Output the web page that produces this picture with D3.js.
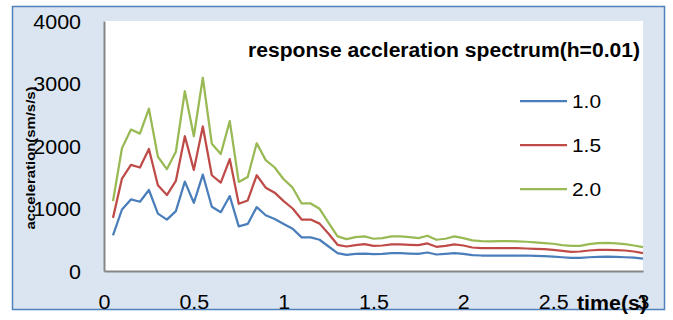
<!DOCTYPE html>
<html><head><meta charset="utf-8">
<script src="https://cdn.jsdelivr.net/npm/d3@7"></script>
<style>body{margin:0;background:#fff}svg{display:block}</style>
</head><body>
<svg id="c" width="673" height="320"></svg>
<script>
const times = d3.range(1, 61).map(i => +(i * 0.05).toFixed(2));
const s10 = [570,984,1145,1108,1296,919,823,957,1430,1091,1543,1027,941,1199,715,753,1022,892,833,753,677,538,538,500,392,285,258,274,279,269,274,285,285,279,274,296,264,274,285,274,253,248,248,248,248,248,248,242,237,231,220,210,210,220,226,231,226,220,215,199];
const s15 = [850,1479,1699,1656,1952,1371,1215,1441,2156,1618,2312,1532,1414,1790,1075,1129,1532,1333,1253,1118,1000,823,823,758,597,419,392,414,430,403,408,425,425,419,414,441,387,403,425,408,376,366,366,366,366,366,360,355,349,339,323,307,312,328,339,339,333,328,312,285];
const s20 = [1118,1963,2263,2198,2597,1828,1629,1908,2876,2156,3092,2037,1871,2398,1425,1505,2043,1774,1656,1468,1333,1081,1081,995,769,553,511,543,553,516,527,553,553,543,527,564,500,516,553,527,489,478,473,478,478,473,468,457,446,436,414,403,403,430,446,451,441,430,408,381];
const seriesNames = ["1.0","1.5","2.0"];
const seriesColors = ["#4a7ebb","#be4b48","#98b954"];
const xTicks = [0,0.5,1,1.5,2,2.5,3];
const yTicks = [0,1000,2000,3000,4000];
const title = "response accleration spectrum(h=0.01)";

const svg = d3.select("#c");
const SX = 1.1;
const font = "'Liberation Sans', Arial, sans-serif";
svg.append("rect").attr("x",12.5).attr("y",6.5).attr("width",652).attr("height",303)
  .attr("fill","#dbe5f1").attr("stroke","#4f81bd").attr("stroke-width",1.5);

const L=104,R=643,T=21,B=271;
svg.append("rect").attr("x",L).attr("y",T).attr("width",R-L).attr("height",B-T).attr("fill","#fff");
const x = d3.scaleLinear().domain([0,3]).range([L,R]);
const y = d3.scaleLinear().domain([0,4000]).range([B,T]);

const xa = svg.append("g").attr("transform",`translate(0,${B})`)
  .call(d3.axisBottom(x).tickValues(xTicks).tickSize(0).tickPadding(0).tickFormat(d3.format("")));
xa.select(".domain").attr("stroke","#868686").attr("stroke-width",2);
xa.selectAll("text").attr("y",38.5).attr("dy",0).attr("font-family",font).attr("font-size",19.5)
  .attr("fill","#000").attr("transform",`scale(${SX},1)`);

const ya = svg.append("g").attr("transform",`translate(${L},0)`)
  .call(d3.axisLeft(y).tickValues(yTicks).tickSize(0).tickFormat(d3.format("")));
ya.select(".domain").attr("stroke","#868686").attr("stroke-width",2);
ya.selectAll("text").attr("x",-23/SX).attr("dy","0.36em").attr("font-family",font).attr("font-size",19.5)
  .attr("fill","#000").attr("transform",`scale(${SX},1)`);

const line = d3.line().x((d,i)=>x(times[i])).y(d=>y(d));
[s10,s15,s20].forEach((s,k)=>{
  svg.append("path").datum(s).attr("d",line).attr("fill","none")
    .attr("stroke",seriesColors[k]).attr("stroke-width",2.25).attr("stroke-linejoin","round");
});

// legend
const lg = svg.append("g");
seriesNames.forEach((n,k)=>{
  const yy = 101 + k*44;
  lg.append("line").attr("x1",520).attr("x2",567).attr("y1",yy).attr("y2",yy)
    .attr("stroke",seriesColors[k]).attr("stroke-width",2.25);
  lg.append("text").attr("transform",`translate(572,${yy+7}) scale(${SX},1)`)
    .attr("font-family",font).attr("font-size",19).text(n);
});

svg.append("text").attr("x",248).attr("y",56.5).attr("font-family",font).attr("font-weight","bold")
  .attr("font-size",20).attr("textLength",392).attr("lengthAdjust","spacingAndGlyphs").text(title);

svg.append("text").attr("x",577).attr("y",309.5).attr("font-family",font).attr("font-weight","bold")
  .attr("font-size",19.5).attr("textLength",70).attr("lengthAdjust","spacingAndGlyphs").text("time(s)");

svg.append("text").attr("transform","translate(35,158) rotate(-90)").attr("text-anchor","middle")
  .attr("font-family",font).attr("font-weight","bold").attr("font-size",13.5)
  .attr("textLength",143).attr("lengthAdjust","spacingAndGlyphs").text("acceleration(sm/s/s)");
</script>
</body></html>
